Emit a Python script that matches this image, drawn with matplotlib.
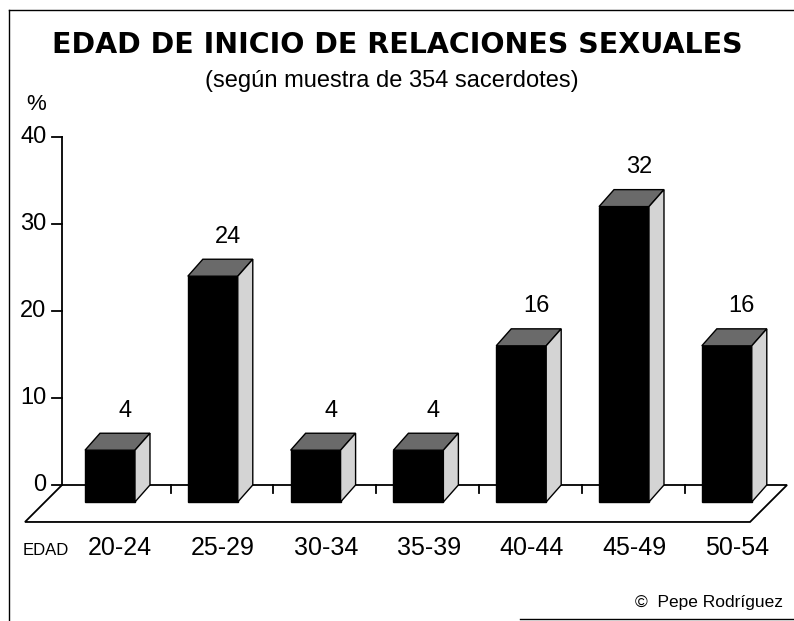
import numpy as np
import matplotlib.pyplot as plt
from matplotlib.patches import Polygon
from matplotlib.lines import Line2D

# datos
edades = ['20-24', '25-29', '30-34', '35-39', '40-44', '45-49', '50-54']
porcentajes = [4, 24, 4, 4, 16, 32, 16]
yticks = [0, 10, 20, 30, 40]

plt.rcParams['font.family'] = ['Liberation Sans', 'DejaVu Sans']

W, H = 794, 621
fig = plt.figure(figsize=(W / 100, H / 100), dpi=100)
ax = fig.add_axes([0, 0, 1, 1])

# escala: 1 categoria = 102.8 px, 1 % = 8.7 px
px, py = 102.8, 8.7
x0, y0 = 110, 485
ax.set_xlim(-x0 / px, (W - x0) / px)
ax.set_ylim(-(H - y0) / py, y0 / py)
ax.axis('off')

# profundidad del piso y de las barras
dxp, dyp = 0.36, 4.25
dxb, dyb = 0.146, 1.95
w = 0.243
xeje = -0.467

# piso
piso = Polygon([(xeje, 0), (6.586, 0), (6.586 - dxp, -dyp), (xeje - dxp, -dyp)],
               closed=True, facecolor='white', edgecolor='black', lw=1.3, zorder=1)
ax.add_patch(piso)
for i in range(len(edades) - 1):
    ax.plot([i + 0.59, i + 0.59], [0, -0.95], color='black', lw=1.3, zorder=1)

# eje y
ax.plot([xeje, xeje], [0, yticks[-1]], color='black', lw=1.3, zorder=1)
for t in yticks:
    ax.plot([xeje - 0.097, xeje], [t, t], color='black', lw=1.3, zorder=1)
    ax.text(xeje - 0.15, t, str(t), ha='right', va='center', fontsize=17)

# barras
for i, v in enumerate(porcentajes):
    ax.bar(i, v + dyb, bottom=-dyb, width=2 * w, color='black', edgecolor='black', zorder=3)
    arriba = Polygon([(i - w, v), (i + w, v), (i + w + dxb, v + dyb), (i - w + dxb, v + dyb)],
                     closed=True, facecolor='#6a6a6a', edgecolor='black', lw=1, zorder=3)
    lado = Polygon([(i + w, -dyb), (i + w + dxb, 0), (i + w + dxb, v + dyb), (i + w, v)],
                   closed=True, facecolor='#d4d4d4', edgecolor='black', lw=1, zorder=3)
    ax.add_patch(arriba)
    ax.add_patch(lado)
    ax.text(i + dxb, v + dyb + 2.6, str(v), ha='center', va='center', fontsize=17)
    ax.text(i + 0.1, -7.2, edades[i], ha='center', va='center', fontsize=18)

ax.text(-0.846, -7.5, 'EDAD', ha='left', va='center', fontsize=12)

# textos
fig.text(397 / W, 1 - 45 / H, 'EDAD DE INICIO DE RELACIONES SEXUALES',
         ha='center', va='center', fontsize=20.5, fontweight='heavy', family='DejaVu Sans')
fig.text(392 / W, 1 - 81 / H, '(según muestra de 354 sacerdotes)',
         ha='center', va='center', fontsize=17)
fig.text(36 / W, 1 - 105 / H, '%', ha='center', va='center', fontsize=16)
fig.text(783 / W, 1 - 603 / H, '©  Pepe Rodríguez', ha='right', va='center', fontsize=12.5)

# marco
fig.add_artist(Line2D([9 / W, 9 / W], [0, 1 - 10 / H], color='black', lw=1, transform=fig.transFigure))
fig.add_artist(Line2D([9 / W, 1], [1 - 10 / H, 1 - 10 / H], color='black', lw=1, transform=fig.transFigure))
fig.add_artist(Line2D([520 / W, 1], [1 - 619 / H, 1 - 619 / H], color='black', lw=1, transform=fig.transFigure))

fig.savefig('out.png', dpi=100)
